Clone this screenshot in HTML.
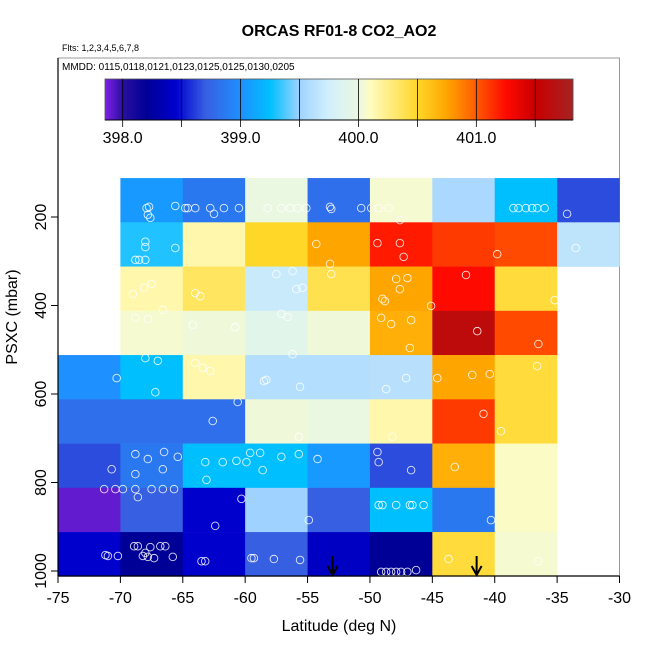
<!DOCTYPE html>
<html><head><meta charset="utf-8"><style>
html,body{margin:0;padding:0;background:#fff;}
svg{display:block;font-family:"Liberation Sans",sans-serif;}
</style></head><body>
<svg id="c" width="650" height="650" viewBox="0 0 650 650"></svg>
<script>
const xTicks=[-75,-70,-65,-60,-55,-50,-45,-40,-35,-30];
const yTicks=[200,400,600,800,1000];
const colLats=[-75,-70,-65,-60,-55,-50,-45,-40,-35];
const rowTops=[112,212,312,412,512,612,712,812,912];
const cellVals=[
[null,399.05,398.85,400.0,398.8,400.05,399.55,399.25,398.65],
[null,399.3,400.15,400.5,400.75,401.2,401.1,401.05,399.65],
[null,400.15,400.35,399.7,400.4,400.75,401.25,400.45,null],
[null,400.05,400.02,399.9,400.02,400.7,401.6,401.05,null],
[399.0,399.25,400.15,399.6,399.6,399.62,400.75,400.45,null],
[398.8,398.8,398.8,400.02,400.0,400.15,401.1,400.45,null],
[398.65,398.85,399.25,399.25,399.05,398.65,400.7,400.08,null],
[397.9,398.7,398.45,399.5,398.7,399.25,398.85,400.08,null],
[398.45,398.2,398.45,398.7,398.4,398.2,400.45,400.05,null]];
const ptLat=[-67.9,-67.8,-67.7,-67.6,-65.6,-64.8,-64.6,-64.0,-62.8,-62.5,-61.7,-60.5,-58.2,-57.1,-56.4,-55.8,-55.1,-53.2,-53.1,-50.7,-49.9,-49.3,-48.5,-47.6,-38.5,-38.1,-37.5,-37.0,-36.6,-36.0,-34.2,
-68.0,-68.0,-65.6,-68.5,-68.0,-68.8,-54.3,-53.2,-49.4,-47.6,-47.3,-39.8,-33.5,
-69.0,-68.1,-67.5,-64.0,-63.6,-57.5,-56.2,-55.9,-55.4,-53.1,-49.0,-47.9,-47.0,-47.6,-45.1,-42.3,-48.8,-35.2,
-68.8,-67.8,-66.6,-64.2,-60.8,-57.1,-56.6,-49.1,-48.3,-46.7,-46.8,-41.4,-36.5,
-68.0,-67.0,-70.3,-67.2,-64.0,-63.4,-62.8,-58.5,-58.3,-56.2,-55.6,-48.7,-47.1,-44.6,-41.8,-40.4,-36.6,
-60.6,-62.6,-55.7,-48.2,-40.9,-39.5,
-68.8,-67.8,-66.5,-70.7,-68.8,-66.6,-65.4,-63.2,-61.8,-59.6,-58.8,-59.9,-58.6,-63.1,-60.7,-57.1,-55.7,-54.2,-49.4,-49.3,-46.7,-43.2,
-71.3,-70.4,-69.8,-68.8,-67.5,-66.6,-65.7,-68.6,-60.3,-54.9,-49.3,-49.0,-47.9,-46.8,-46.6,-45.7,-40.3,
-68.9,-68.6,-67.6,-66.8,-66.4,-68.0,-67.8,-67.3,-65.8,-71.2,-71.0,-70.2,-68.2,-62.4,-63.5,-63.2,-59.5,-59.3,-57.7,-55.6,-49.1,-48.7,-48.3,-47.9,-47.5,-47.0,-46.3,-43.7,-36.5];
const ptP=[180,195,177,202,175,180,180,180,180,193,180,180,180,180,180,180,180,177,182,180,180,180,180,207,180,180,180,180,180,180,193,
256,268,270,297,297,297,261,306,259,259,290,284,270,
374,360,351,372,379,329,322,363,360,329,385,340,338,363,401,331,390,388,
428,431,410,444,449,419,426,428,442,433,496,458,487,
519,525,564,596,530,541,548,571,568,510,584,589,564,564,557,555,537,
618,661,697,697,645,684,
736,747,731,770,781,770,742,754,754,733,733,754,772,794,751,742,736,747,731,754,772,765,
815,815,815,815,815,815,815,833,837,885,851,851,851,851,851,851,885,
944,944,946,944,944,959,968,971,968,964,966,966,966,898,978,978,971,971,973,975,1002,1002,1002,1002,1002,1002,998,973,978];
const arrowLats=[-53.0,-41.45];
const cbTicks=[398.0,399.0,400.0,401.0];

const X0=58,X1=619.5,LAT0=-75,LAT1=-30;
const xs=v=>X0+(v-LAT0)*(X1-X0)/(LAT1-LAT0);
const ys=p=>217+(p-200)*0.4425;
const CB0=105,CB1=573,V0=397.85,V1=401.82;
const cbx=v=>CB0+(v-V0)*(CB1-CB0)/(V1-V0);
const stops=[[397.85,[128,32,232]],[398.0,[40,16,160]],[398.2,[0,0,150]],[398.45,[0,0,205]],[398.7,[55,95,225]],[399.0,[30,144,255]],[399.25,[0,191,255]],[399.5,[160,210,255]],[399.75,[210,240,250]],[400.0,[235,248,225]],[400.1,[255,252,190]],[400.5,[255,215,40]],[400.75,[255,165,0]],[401.0,[255,90,0]],[401.25,[255,10,0]],[401.5,[200,0,0]],[401.82,[165,35,35]]];
function col(v){
  if(v<=stops[0][0])return 'rgb('+stops[0][1]+')';
  for(let i=1;i<stops.length;i++){if(v<=stops[i][0]){const a=stops[i-1],b=stops[i],t=(v-a[0])/(b[0]-a[0]);return 'rgb('+a[1].map((c,k)=>Math.round(c+(b[1][k]-c)*t)).join(',')+')';}}
  return 'rgb('+stops[stops.length-1][1]+')';
}
const NS='http://www.w3.org/2000/svg',svg=document.getElementById('c');
function mk(t,a,p){const e=document.createElementNS(NS,t);for(const k in a)e.setAttribute(k,a[k]);(p||svg).appendChild(e);return e;}

let e;
e=mk('text',{x:339,y:36,'text-anchor':'middle','font-size':'16','font-weight':'bold'});e.textContent='ORCAS RF01-8 CO2_AO2';


e=mk('text',{x:62,y:51,'font-size':'9'});e.textContent='Flts: 1,2,3,4,5,6,7,8';


e=mk('rect',{x:58,y:58,width:561.5,height:518,fill:'none',stroke:'#999','stroke-width':1});


e=mk('text',{x:62,y:70,'font-size':'10'});e.textContent='MMDD: 0115,0118,0121,0123,0125,0125,0130,0205';



const cg=mk('g',{});


for(let px=CB0;px<CB1;px+=2){const v=V0+(px-CB0+1)*(V1-V0)/(CB1-CB0);mk('rect',{x:px,y:79,width:2.3,height:41,fill:col(v)},cg);}
mk('rect',{x:CB0,y:79,width:CB1-CB0,height:41,fill:'none',stroke:'#555','stroke-width':0.8},cg);
for(let v=398;v<=401.51;v+=0.5){mk('line',{x1:cbx(v),x2:cbx(v),y1:79,y2:127,stroke:'#000','stroke-width':0.8},cg);}
mk('line',{x1:CB0,x2:CB1,y1:120,y2:120,stroke:'#000','stroke-width':1},cg);
cbTicks.forEach(v=>{const t=mk('text',{x:cbx(v),y:143,'text-anchor':'middle','font-size':'16'},cg);t.textContent=v.toFixed(1);

});

const gg=mk('g',{});


cellVals.forEach((row,r)=>row.forEach((v,c)=>{if(v==null)return;
  const x=xs(colLats[c]),y=ys(rowTops[r]);
  const el=mk('rect',{x:x,y:y,width:xs(colLats[c]+5)-x+0.3,height:ys(rowTops[r]+100)-y+0.3,fill:col(v)},gg);
  
  
}));
const pg=mk('g',{});


ptLat.forEach((la,i)=>{const el=mk('circle',{cx:xs(la),cy:ys(ptP[i]),r:3.8,fill:'none',stroke:'#fff','stroke-width':0.9,opacity:0.85},pg);
  
  });
arrowLats.forEach(la=>{const g=mk('g',{});
  
  
  const x=xs(la);mk('line',{x1:x,x2:x,y1:556,y2:575,stroke:'#000','stroke-width':2},g);
  mk('path',{d:`M${x-5},${566} L${x},${575} L${x+5},${566}`,fill:'none',stroke:'#000','stroke-width':2},g);});

const ax=mk('g',{});


mk('line',{x1:X0,x2:X1,y1:576,y2:576,stroke:'#000','stroke-width':1.2},ax);
xTicks.forEach(v=>{mk('line',{x1:xs(v),x2:xs(v),y1:576,y2:583,stroke:'#000'},ax);
  const t=mk('text',{x:xs(v),y:603,'text-anchor':'middle','font-size':'16'},ax);t.textContent=v;
  
  });
e=mk('text',{x:339,y:631,'text-anchor':'middle','font-size':'16'});e.textContent='Latitude (deg N)';


const ay=mk('g',{});


mk('line',{x1:58,x2:58,y1:58,y2:576,stroke:'#000','stroke-width':1.2},ay);
yTicks.forEach(v=>{const y=ys(v);mk('line',{x1:51,x2:58,y1:y,y2:y,stroke:'#000'},ay);
  const t=mk('text',{x:46,y:y,'text-anchor':'middle','font-size':'16',transform:`rotate(-90 46 ${y})`},ay);t.textContent=v;
  
  });
e=mk('text',{x:17,y:317,'text-anchor':'middle','font-size':'16',transform:'rotate(-90 17 317)'});e.textContent='PSXC (mbar)';


</script>
</body></html>
